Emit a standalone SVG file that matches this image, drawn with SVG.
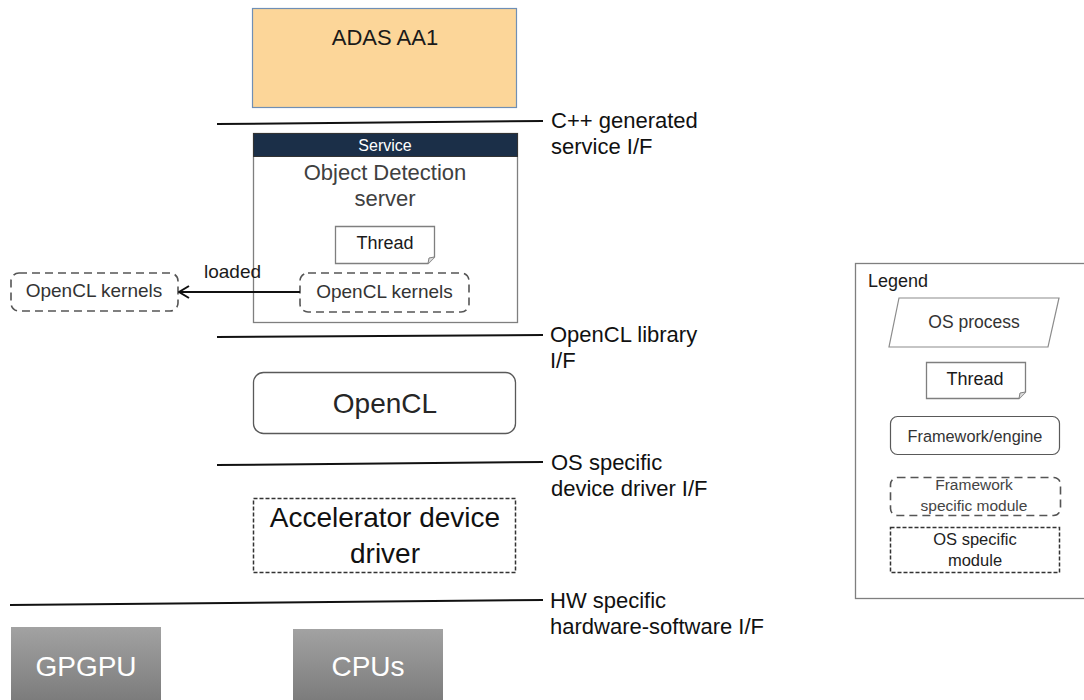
<svg xmlns="http://www.w3.org/2000/svg" width="1084" height="700" viewBox="0 0 1084 700">
<defs>
<style>
text{font-family:"Liberation Sans",Arial,sans-serif;fill:#1a1a1a}
.c{text-anchor:middle}
.lbl{font-size:22px;fill:#111}
.if{stroke:#111;stroke-width:2;fill:none}
.dash{fill:#fff;stroke:#555;stroke-width:1.6;stroke-dasharray:8 5}
.dash2{fill:#fff;stroke:#333;stroke-width:1.5;stroke-dasharray:4 2}
.thread{fill:#fff;stroke:#7f7f7f;stroke-width:1.3}
.hw{fill:url(#gray)}
.hwt{font-size:28px;fill:#fff}
</style>
<linearGradient id="gray" x1="0" y1="0" x2="0" y2="1">
<stop offset="0" stop-color="#a2a2a2"/>
<stop offset="1" stop-color="#7c7c7c"/>
</linearGradient>
<marker id="open" viewBox="0 0 12 14" refX="11" refY="7" markerWidth="12" markerHeight="14" markerUnits="userSpaceOnUse" orient="auto">
<path d="M1,1 L11,7 L1,13" fill="none" stroke="#111" stroke-width="2"/>
</marker>
</defs>

<g id="interfaces">
<line class="if" x1="217" y1="124" x2="543" y2="121"/>
<text class="lbl" x="551" y="128">C++ generated</text>
<text class="lbl" x="551" y="154">service I/F</text>
<line class="if" x1="217" y1="337" x2="543" y2="335"/>
<text class="lbl" x="550" y="342">OpenCL library</text>
<text class="lbl" x="550" y="368">I/F</text>
<line class="if" x1="217" y1="465" x2="543" y2="462"/>
<text class="lbl" x="551" y="470">OS specific</text>
<text class="lbl" x="551" y="496">device driver I/F</text>
<line class="if" x1="10" y1="605" x2="543" y2="600"/>
<text class="lbl" x="550" y="608">HW specific</text>
<text class="lbl" x="550" y="634">hardware-software I/F</text>
</g>

<g id="adas">
<rect x="252.5" y="8.5" width="264" height="99" fill="#fcd699" stroke="#6f8fb5" stroke-width="1.2"/>
<text class="c" x="385" y="45" font-size="22">ADAS AA1</text>
</g>

<g id="service">
<rect x="253.5" y="133.5" width="264" height="189" fill="#fff" stroke="#7f7f7f" stroke-width="1.3"/>
<rect x="253.5" y="133.5" width="264" height="23" fill="#1b2f48" stroke="#333" stroke-width="1"/>
<text class="c" x="385" y="151" font-size="16" style="fill:#fff">Service</text>
<text class="c" x="385" y="180" font-size="22" style="fill:#404040">Object Detection</text>
<text class="c" x="385" y="206" font-size="22" style="fill:#404040">server</text>
</g>

<g id="thread">
<path class="thread" d="M335.5,226.5 H434.5 V257 L428,263.5 H335.5 Z"/>
<path d="M434.5,257 L429,258 L428,263.5" fill="#ddd" stroke="#7f7f7f" stroke-width="1"/>
<text class="c" x="385" y="249" font-size="18">Thread</text>
</g>

<g id="kernels-inner">
<rect class="dash" x="300" y="273" width="169" height="39" rx="8"/>
<text class="c" x="384.5" y="298" font-size="19" style="fill:#333">OpenCL kernels</text>
</g>

<g id="kernels-outer">
<rect class="dash" x="11" y="273" width="167" height="38" rx="8"/>
<text class="c" x="94" y="297" font-size="19" style="fill:#333">OpenCL kernels</text>
</g>

<g id="connectors">
<line x1="300" y1="292" x2="179" y2="292" stroke="#111" stroke-width="2" marker-end="url(#open)"/>
<text x="204" y="278" font-size="19">loaded</text>
</g>

<g id="opencl">
<rect x="253.5" y="372.5" width="262" height="61" rx="10" fill="#fff" stroke="#595959" stroke-width="1.3"/>
<text class="c" x="385" y="413" font-size="28" style="fill:#262626">OpenCL</text>
</g>

<g id="accelerator">
<rect class="dash2" x="253.5" y="498.5" width="262" height="74"/>
<text class="c" x="385" y="527" font-size="28" style="fill:#111">Accelerator device</text>
<text class="c" x="385" y="563" font-size="28" style="fill:#111">driver</text>
</g>

<g id="gpgpu">
<rect class="hw" x="11" y="627" width="150" height="73"/>
<text class="c hwt" x="86" y="676">GPGPU</text>
</g>

<g id="cpus">
<rect class="hw" x="293" y="629" width="150" height="71"/>
<text class="c hwt" x="368" y="676">CPUs</text>
</g>

<g id="legend">
<rect x="855.5" y="263.5" width="240" height="335" fill="#fff" stroke="#7f7f7f" stroke-width="1.3"/>
<text x="868" y="287" font-size="18">Legend</text>
<polygon points="899,298 1059,298 1048,347 889,347" fill="#fff" stroke="#8c8c8c" stroke-width="1.2"/>
<text class="c" x="974" y="328" font-size="17.5" style="fill:#333">OS process</text>
<path class="thread" d="M926.5,362.5 H1025.5 V392 L1019,398.5 H926.5 Z"/>
<path d="M1025.5,392 L1020,393 L1019,398.5" fill="#ddd" stroke="#7f7f7f" stroke-width="1"/>
<text class="c" x="975" y="385" font-size="18">Thread</text>
<rect x="890.5" y="416.5" width="169" height="38" rx="7" fill="#fff" stroke="#595959" stroke-width="1.2"/>
<text class="c" x="975" y="442" font-size="16.3" style="fill:#333">Framework/engine</text>
<rect class="dash" x="890.5" y="477.5" width="170" height="38" rx="7"/>
<text class="c" x="974" y="490" font-size="15.5" style="fill:#444">Framework</text>
<text class="c" x="974" y="511" font-size="15.5" style="fill:#444">specific module</text>
<rect class="dash2" x="890.5" y="527.5" width="169" height="45"/>
<text class="c" x="975" y="545" font-size="16.5" style="fill:#222">OS specific</text>
<text class="c" x="975" y="566" font-size="16.5" style="fill:#222">module</text>
</g>
</svg>
